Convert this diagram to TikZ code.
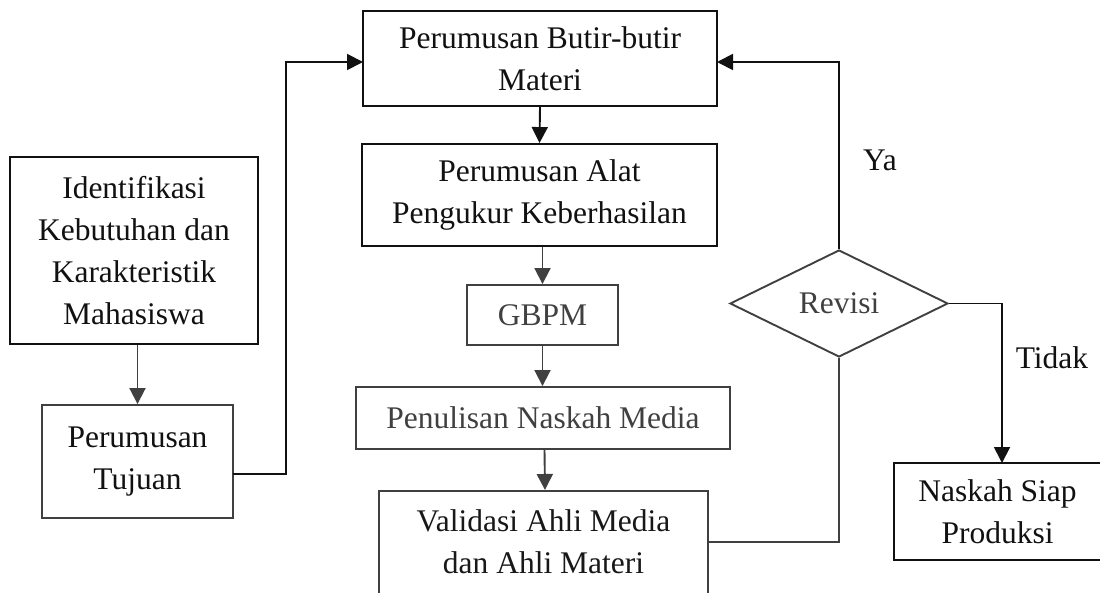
\documentclass[tikz,border=0pt]{standalone}
\usepackage{fontspec}
\setmainfont{Liberation Serif}
\usetikzlibrary{shapes.geometric,arrows.meta}
\definecolor{ink}{HTML}{111111}
\definecolor{soft}{HTML}{404040}
\tikzset{
  every node/.style={font=\fontsize{31.5}{42}\selectfont},
  boxnode/.style={draw=ink, line width=1.9pt, rectangle, inner sep=0pt, align=center, text=ink},
  softbox/.style={boxnode, draw=soft, text=soft},
  decision/.style={draw=soft, line width=1.9pt, diamond, inner sep=0pt, text=soft},
  link/.style={line width=1.9pt, draw=ink},
  softlink/.style={line width=1.9pt, draw=soft},
  arrowlink/.style={link, -{Triangle[length=16pt,width=16pt]}},
  softarrow/.style={softlink, -{Triangle[length=16pt,width=16pt]}},
  plain/.style={inner sep=0pt, text=ink}
}
\begin{document}
\begin{tikzpicture}[x=1pt,y=-1pt]
\useasboundingbox (0,0) rectangle (1100,593);
% boxes
\node[boxnode, minimum width=354pt, minimum height=95pt] (b1) at (540,58.5) {Perumusan Butir-butir\\Materi};
\node[boxnode, minimum width=355pt, minimum height=102pt] (b2) at (539.5,195) {Perumusan Alat\\Pengukur Keberhasilan};
\node[softbox, minimum width=151pt, minimum height=60pt] (gb) at (542.5,315) {GBPM};
\node[softbox, minimum width=374pt, minimum height=62pt] (pn) at (543,418) {Penulisan Naskah Media};
\node[softbox, minimum width=329pt, minimum height=130pt, anchor=north] (va) at (543.5,490) {};
\node[plain, align=center, text=ink!85!soft] (vatext) at (543.5,541.5) {Validasi Ahli Media\\dan Ahli Materi};
\node[boxnode, minimum width=248pt, minimum height=187pt] (id) at (134,250.5) {Identifikasi\\Kebutuhan dan\\Karakteristik\\Mahasiswa};
\node[softbox, minimum width=191pt, minimum height=113pt, text=ink] (tj) at (137.5,461.5) {Perumusan\\Tujuan};
\node[decision, minimum width=218pt, minimum height=107pt] (rv) at (839,303.5) {Revisi};
\node[boxnode, minimum width=207pt, minimum height=97pt] (ns) at (997.5,511.5) {Naskah Siap\\Produksi};
% labels
\node[plain] (ya) at (880,160) {Ya};
\node[plain] (td) at (1052,358) {Tidak};
% helper coordinates
\coordinate (tjout) at (233,474);
\coordinate (bend1) at (286,62);
\coordinate (b1l) at (363,62);
\coordinate (b1r) at (717,62);
\coordinate (vaout) at (708,542);
\coordinate (nsin) at (1002,463);
% connectors
\draw[arrowlink] (b1.south) -- (b2.north);
\draw[softarrow] (gb.north |- b2.south) -- (gb.north);
\draw[softarrow] (gb.south) -- (pn.north -| gb.south);
\draw[softarrow] ([xshift=1.5pt]pn.south) -- ([xshift=1.5pt]va.north);
\draw[softarrow] (tj.north |- id.south) -- (tj.north);
\draw[arrowlink] (tjout) -| (bend1) -- (b1l);
\draw[arrowlink] (rv.north) |- (b1r);
\draw[arrowlink] (rv.east) -| (nsin);
\draw[softlink] (vaout) -| (rv.south);
\end{tikzpicture}
\end{document}
